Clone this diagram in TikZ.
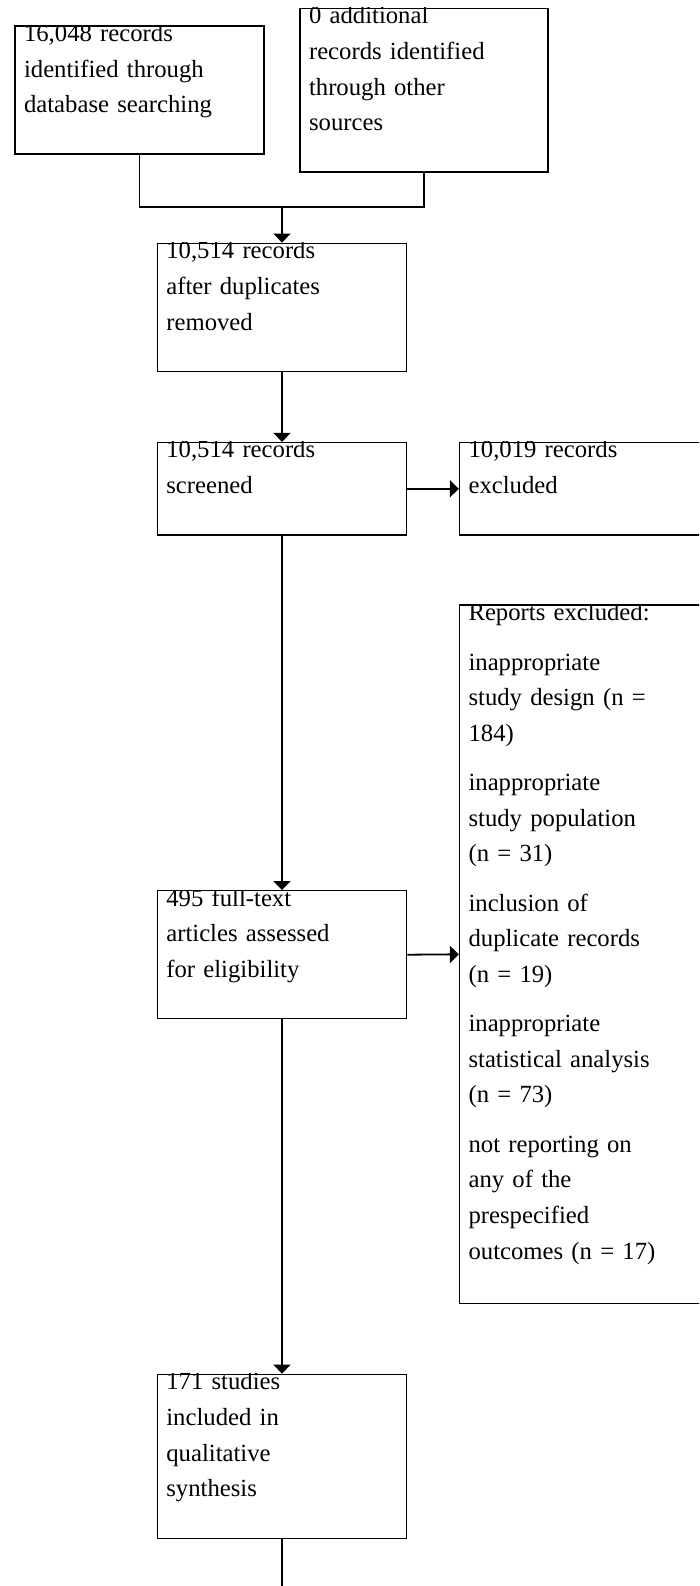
\documentclass[tikz,border=0pt]{standalone}
\usepackage{fontspec}
\setmainfont{Liberation Serif}
\usetikzlibrary{arrows.meta}

\begin{document}
\begin{tikzpicture}[x=1pt, y=-1pt,
	box/.style={draw, line width=1.3pt, inner sep=0pt, minimum width=249.4pt},
	txt/.style={anchor=base west, inner sep=0pt, text width=245pt, align=left, font=\fontsize{24.7}{35.7}\selectfont},
	link/.style={line width=1.8pt},
	arr/.style={link, -{Triangle[length=9pt, width=17pt]}}]
		\clip (0,0) rectangle (699,1586);
		
		\node[box, minimum width=249pt, minimum height=128pt] (ident) at (139.5, 90) {};
		\node[box, minimum width=248pt, minimum height=163.7pt] (other) at (424, 90.2) {};
		\node[box, minimum height=128pt] (dup) at (282, 307.3) {};
		\node[box, minimum height=92.5pt] (screen) at (282, 488.8) {};
		\node[box, minimum width=250pt, minimum height=92.5pt] (excl) at (584.5, 488.8) {};
		\node[box, minimum width=250pt, minimum height=698.5pt] (rep) at (584.5, 954.3) {};
		\node[box, minimum height=128pt] (full) at (282, 954.7) {};
		\node[box, minimum height=164pt] (qual) at (282, 1456.3) {};
		
		\foreach \b/\t in {ident/{16,048 records\\identified through\\database searching},
			other/{0 additional\\records identified\\through other\\sources},
			dup/{10,514 records\\after duplicates\\removed},
			screen/{10,514 records\\screened},
			excl/{10,019 records\\excluded},
			full/{495 full-text\\articles assessed\\for eligibility},
			qual/{171 studies\\included in\\qualitative\\synthesis}}
		{
			\begin{scope}
				\clip (\b.north west) rectangle (\b.south east);
				\node[txt] (\b-txt) at ([xshift=9.5pt, yshift=-16pt]\b.north west) {\t};
			\end{scope}
		}
		\begin{scope}
			\clip (rep.north west) rectangle (rep.south east);
			\node[txt] (rep-txt) at ([xshift=9.5pt, yshift=-16.5pt]rep.north west) {Reports excluded:\\[13.4pt]
				inappropriate\\study design (n =\\184)\\[13.4pt]
				inappropriate\\study population\\(n = 31)\\[13.4pt]
				inclusion of\\duplicate records\\(n = 19)\\[13.4pt]
				inappropriate\\statistical analysis\\(n = 73)\\[13.4pt]
				not reporting on\\any of the\\prespecified\\outcomes (n = 17)};
		\end{scope}
		
		\coordinate (merge) at (282, 207.3);
		\coordinate (tail) at (282, 1600);
		\draw[link] (ident.south) |- (merge);
		\draw[link] (other.south) |- (merge);
		\draw[arr] (merge) -- (dup.north);
		\draw[arr] (dup.south) -- (screen.north);
		\draw[arr] (screen.east) -- (excl.west);
		\draw[arr] (screen.south) -- (full.north);
		\draw[arr] (full.east) -- (rep.west);
		\draw[arr] (full.south) -- (qual.north);
		\draw[link] (qual.south) -- (tail);
	\end{tikzpicture}
\end{document}
